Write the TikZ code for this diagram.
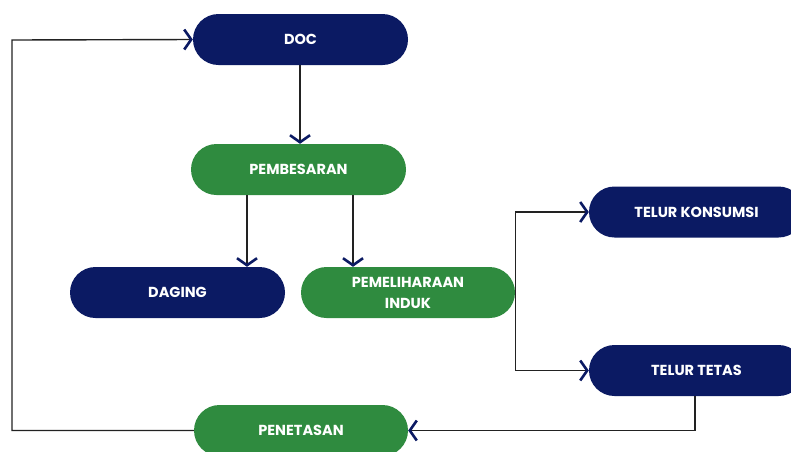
\documentclass[tikz,border=0pt]{standalone}
\usepackage{fontspec}
\setmainfont{Poppins}
\usetikzlibrary{arrows.meta}
\definecolor{navyc}{HTML}{0B1A63}
\definecolor{greenc}{HTML}{2F8B3F}
\definecolor{linec}{HTML}{222222}
\tikzset{
  pill/.style={rectangle, rounded corners=25.5pt, minimum width=215pt, minimum height=51pt,
    text=white, font=\fontsize{14.5}{21}\selectfont\bfseries, align=center, inner sep=0pt},
  navypill/.style={pill, fill=navyc},
  greenpill/.style={pill, fill=greenc},
  conn/.style={draw=linec, line width=1.4pt,
    -{Straight Barb[length=7pt, width=20pt, line width=2.6pt, color=navyc]}},
}
\begin{document}
\begin{tikzpicture}[x=1pt, y=-1pt]
\useasboundingbox (0,0) rectangle (791,451);
\begin{scope}
\clip (0,0) rectangle (791,451);
\node[navypill] (doc) at (300.5,39.5) {DOC};
\node[greenpill] (pemb) at (298.5,169.5) {PEMBESARAN};
\node[navypill] (dag) at (177.5,292.5) {DAGING};
\node[greenpill, minimum width=214pt] (pem) at (408,292.5) {PEMELIHARAAN\\INDUK};
\node[navypill] (tk) at (696.5,212) {TELUR KONSUMSI};
\node[navypill] (tt) at (696.5,370.5) {TELUR TETAS};
\node[greenpill, minimum width=214pt] (pen) at (301,430.5) {PENETASAN};
\coordinate (L) at (12,40);

\draw[conn] (doc.south -| 300,0) -- (pemb.north -| 300,0);
\draw[conn] (pemb.south -| 247,0) -- (dag.north -| 247,0);
\draw[conn] (pemb.south -| 353,0) -- (pem.north -| 353,0);
\draw[conn] (pem.east) |- (tk.west);
\draw[conn] (pem.east) |- (tt.west);
\draw[conn] (tt.south -| 695,0) |- (pen.east);
\draw[conn] (pen.west) -| (L) -- (doc.west);
\end{scope}
\end{tikzpicture}
\end{document}
